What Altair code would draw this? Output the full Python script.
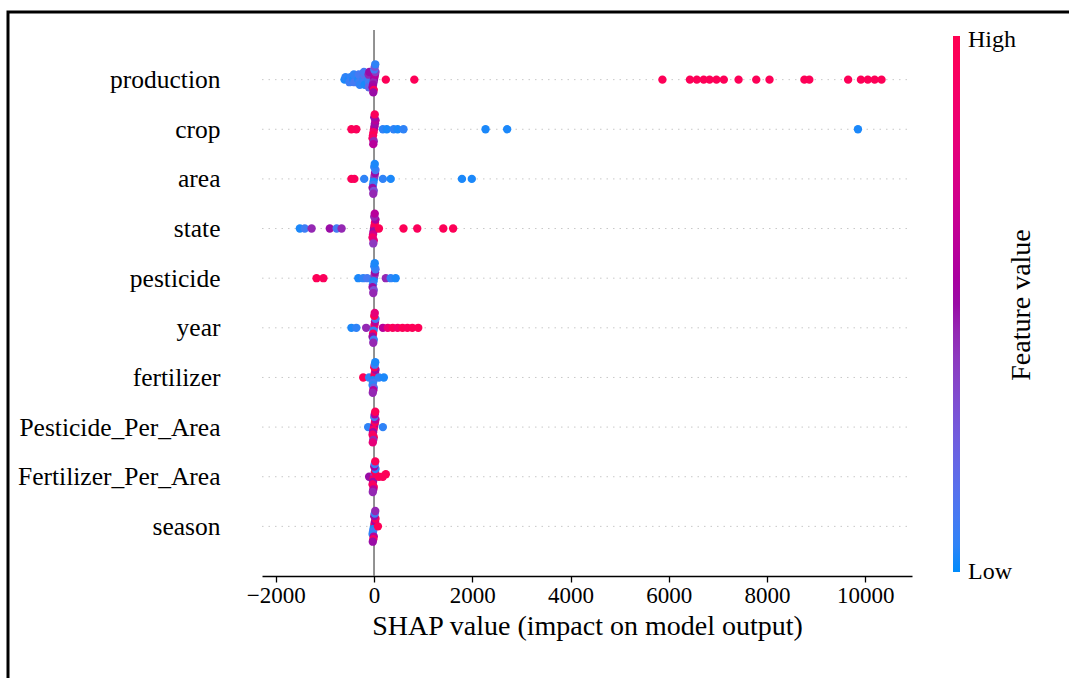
import math
import altair as alt
import pandas as pd

# Feature order, top to bottom
features = ["production", "crop", "area", "state", "pesticide", "year",
            "fertilizer", "Pesticide_Per_Area", "Fertilizer_Per_Area", "season"]

# SHAP values and normalised feature values (0 = low, 1 = high) per feature
production_shap = [-600, -580, -520, -480, -500, -420, -380, -400, -410,
                   -320, -280, -300, -310, -290, -220, -180, -200, -210, -190, -205,
                   -120, -80, -100, -110, -90, -95, -105,
                   0, 10, -10, 20, -20, 30, -30, 5, -5, 15, -15, 25,
                   240, 820,
                   5870, 6430, 6570, 6710, 6830, 6970, 7120, 7420, 7780, 8050,
                   8760, 8860, 9650, 9910, 10050, 10190, 10330]
production_feat = [0.02, 0.05, 0.02, 0.05, 0.08, 0.02, 0.05, 0.1, 0.05,
                   0.02, 0.05, 0.08, 0.1, 0.05, 0.05, 0.1, 0.08, 0.15, 0.02, 0.1,
                   0.05, 0.3, 0.1, 0.45, 0.08, 0.5, 0.2,
                   0.5, 0.55, 0.45, 0.6, 0.5, 0.4, 0.55, 0.1, 0.95, 0.3, 0.5, 0.05,
                   0.97, 0.97,
                   0.97, 0.97, 0.97, 0.97, 0.97, 0.97, 0.97, 0.97, 0.97, 0.97,
                   0.97, 0.97, 0.97, 0.97, 0.97, 0.97, 0.97]

crop_shap = [-460, -360,
             0, 10, -10, 20, -20, 30, -30, 5, -5, 15, -15,
             180, 260, 400, 480, 600, 2270, 2710, 9850]
crop_feat = [0.97, 0.95,
             0.95, 0.55, 0.9, 0.5, 0.97, 0.6, 0.9, 0.5, 0.45, 0.95, 0.6,
             0.05, 0.02, 0.05, 0.02, 0.05, 0.02, 0.02, 0.02]

area_shap = [-460, -400, -200,
             0, 10, -10, 20, -20, 30, -30, 5, -5, 15, -15,
             180, 340, 1790, 1990]
area_feat = [0.97, 0.95, 0.05,
             0.05, 0.4, 0.02, 0.5, 0.08, 0.1, 0.5, 0.05, 0.3, 0.02, 0.45,
             0.05, 0.02, 0.02, 0.02]

state_shap = [-1510, -1410, -1270, -900, -760, -660,
              0, 10, -10, 20, -20, 30, -30, 5, -5, 15, -15,
              100, 600, 880, 1410, 1610]
state_feat = [0.02, 0.08, 0.45, 0.5, 0.1, 0.45,
              0.6, 0.9, 0.5, 0.95, 0.7, 0.55, 0.9, 0.45, 0.8, 0.6, 0.4,
              0.97, 0.97, 0.95, 0.97, 0.97]

pesticide_shap = [-1170, -1030, -320, -220, -140,
                  0, 10, -10, 20, -20, 30, -30, 5, -5, 15, -15,
                  240, 340, 440]
pesticide_feat = [0.97, 0.95, 0.02, 0.05, 0.1,
                  0.05, 0.4, 0.02, 0.5, 0.08, 0.1, 0.5, 0.05, 0.3, 0.02, 0.45,
                  0.45, 0.05, 0.02]

year_shap = [-460, -360, -160,
             0, 10, -10, 20, -20, 30, -30, 5, -5, 15, -15,
             180, 280, 380, 480, 580, 680, 780, 900]
year_feat = [0.02, 0.05, 0.45,
             0.3, 0.9, 0.05, 0.6, 0.95, 0.1, 0.5, 0.97, 0.08, 0.8, 0.45,
             0.6, 0.85, 0.95, 0.9, 0.97, 0.95, 0.97, 0.97]

fertilizer_shap = [-220, -100,
                   0, 10, -10, 20, -20, 30, -30, 5, -5, 15, -15, 25, -25,
                   100, 200]
fertilizer_feat = [0.97, 0.05,
                   0.05, 0.95, 0.02, 0.9, 0.1, 0.5, 0.05, 0.97, 0.2, 0.08, 0.6, 0.02, 0.45,
                   0.05, 0.02]

ppa_shap = [-120,
            0, 10, -10, 20, -20, 30, -30, 5, -5, 15, -15, 25, -25,
            180]
ppa_feat = [0.05,
            0.95, 0.55, 0.9, 0.97, 0.5, 0.6, 0.9, 0.1, 0.95, 0.6, 0.45, 0.97, 0.8,
            0.05]

fpa_shap = [-100,
            0, 10, -10, 20, -20, 30, -30, 5, -5, 15, -15, 25, -25,
            100, 180, 240]
fpa_feat = [0.5,
            0.95, 0.4, 0.9, 0.97, 0.5, 0.05, 0.9, 0.55, 0.95, 0.1, 0.6, 0.97, 0.45,
            0.97, 0.95, 0.97]

season_shap = [0, 10, -10, 20, -20, 30, -30, 5, -5, 15, -15, 25, -25,
               80]
season_feat = [0.05, 0.9, 0.02, 0.55, 0.1, 0.95, 0.05, 0.5, 0.6, 0.08, 0.9, 0.45, 0.5,
               0.97]

series = {
    "production": (production_shap, production_feat),
    "crop": (crop_shap, crop_feat),
    "area": (area_shap, area_feat),
    "state": (state_shap, state_feat),
    "pesticide": (pesticide_shap, pesticide_feat),
    "year": (year_shap, year_feat),
    "fertilizer": (fertilizer_shap, fertilizer_feat),
    "Pesticide_Per_Area": (ppa_shap, ppa_feat),
    "Fertilizer_Per_Area": (fpa_shap, fpa_feat),
    "season": (season_shap, season_feat),
}

x_ticks = [-2000, 0, 2000, 4000, 6000, 8000, 10000]
colorbar_labels = ["High", "Low"]


def swarm(vals, binw=100.0, row_height=0.4):
    """SHAP-style beeswarm offsets (layout only)."""
    n = len(vals)
    q = [round(v / binw) for v in vals]
    order = sorted(range(n), key=lambda i: (q[i], i))
    ys = [0.0] * n
    layer, last = 0, None
    for i in order:
        if q[i] != last:
            layer = 0
        ys[i] = math.ceil(layer / 2) * ((layer % 2) * 2 - 1)
        layer += 1
        last = q[i]
    m = max(y + 1 for y in ys)
    return [y * 0.9 * (row_height / m) for y in ys]


n_feat = len(features)
rows = []
for k, name in enumerate(features):
    pos = n_feat - 1 - k
    sv, fv = series[name]
    offs = swarm(sv)
    for s, f, o in zip(sv, fv, offs):
        rows.append({"feature": name, "shap": s, "value": f, "ypos": pos + o})
points_df = pd.DataFrame(rows)
grid_df = pd.DataFrame({"feature": features,
                        "pos": [n_feat - 1 - k for k in range(n_feat)]})

W, H = 650, 546
LEFT, TOP = 262, 30
SERIF = "Liberation Serif"
CB_X, CB_TOP, CB_BOT = 953, 36, 572

label_arr = "[" + ",".join("'%s'" % f for f in reversed(features)) + "]"

xscale = alt.Scale(domain=[-2280, 10950], nice=False, zero=False)
yscale = alt.Scale(domain=[-1, n_feat], nice=False, zero=False)
yaxis = alt.Axis(values=list(range(n_feat)),
                 labelExpr=label_arr + "[datum.value]",
                 domain=False, ticks=False, grid=False,
                 labelFont=SERIF, labelFontSize=25.5, labelColor="black",
                 labelPadding=42, labelLimit=400, title=None)

frame = alt.Chart(alt.Data(values=[{}])).mark_rect(
    fill=None, stroke="black", strokeWidth=3
).encode(
    x=alt.value(8 - LEFT), x2=alt.value(1200 - LEFT),
    y=alt.value(12 - TOP), y2=alt.value(800 - TOP),
)

grid = alt.Chart(grid_df).mark_rule(
    color="#c8c8c8", strokeWidth=1, strokeDash=[1.5, 5]
).encode(
    y=alt.Y("pos:Q", scale=yscale, axis=yaxis),
    x=alt.value(0), x2=alt.value(W),
)

zero = alt.Chart(alt.Data(values=[{"v": 0}])).mark_rule(
    color="#777777", strokeWidth=1.6
).encode(
    x=alt.X("v:Q", scale=xscale),
    y=alt.value(0), y2=alt.value(H),
)

dots = alt.Chart(points_df).mark_circle(size=70, opacity=1).encode(
    x=alt.X("shap:Q", scale=xscale,
            axis=alt.Axis(values=x_ticks, format="d",
                          title="SHAP value (impact on model output)",
                          grid=False, domainColor="black", domainWidth=1.3,
                          tickColor="black", tickSize=6, tickWidth=1.3,
                          labelFont=SERIF, labelFontSize=23, labelColor="black",
                          labelPadding=2,
                          titleFont=SERIF, titleFontSize=28, titleFontWeight="normal",
                          titleColor="black", titlePadding=5)),
    y=alt.Y("ypos:Q", scale=yscale, axis=yaxis),
    color=alt.Color("value:Q",
                    scale=alt.Scale(domain=[0, 1],
                                    range=["#008bfb", "#9a0ca6", "#ff0051"]),
                    legend=alt.Legend(orient="none", legendX=CB_X - LEFT,
                                      legendY=CB_TOP - TOP,
                                      direction="vertical",
                                      gradientLength=CB_BOT - CB_TOP,
                                      gradientThickness=7, title=None,
                                      values=[0, 1], labelExpr="''",
                                      labelFontSize=1,
                                      gradientStrokeWidth=0)),
)

cb_high = alt.Chart(alt.Data(values=[{"t": colorbar_labels[0]}])).mark_text(
    font=SERIF, fontSize=24, color="black", align="left", baseline="middle"
).encode(text="t:N", x=alt.value(CB_X + 15 - LEFT), y=alt.value(CB_TOP + 4 - TOP))

cb_low = alt.Chart(alt.Data(values=[{"t": colorbar_labels[1]}])).mark_text(
    font=SERIF, fontSize=24, color="black", align="left", baseline="middle"
).encode(text="t:N", x=alt.value(CB_X + 15 - LEFT), y=alt.value(CB_BOT - TOP))

ftitle = alt.Chart(alt.Data(values=[{"t": "Feature value"}])).mark_text(
    angle=270, font=SERIF, fontSize=28, color="black", align="center", baseline="middle"
).encode(
    text="t:N", x=alt.value(1022 - LEFT), y=alt.value(305 - TOP)
)

chart = alt.layer(frame, grid, zero, dots, cb_high, cb_low, ftitle).properties(
    width=W, height=H,
    autosize=alt.AutoSizeParams(type="none"),
    padding={"left": LEFT, "top": TOP, "right": 1069 - LEFT - W, "bottom": 678 - TOP - H},
    background="white",
).configure_view(stroke=None)

chart.save("out.html", embed_options={"renderer": "svg", "actions": False})
